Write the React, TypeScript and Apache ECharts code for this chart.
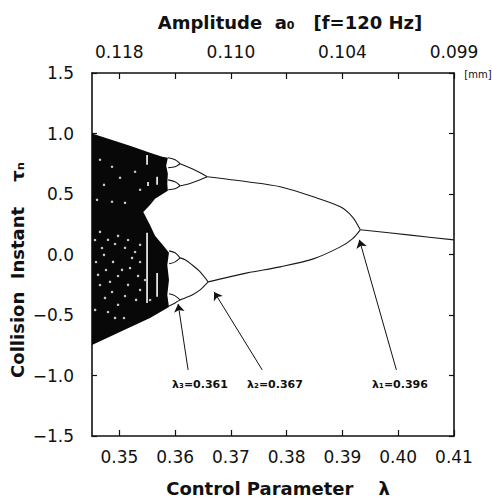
import React, { useEffect, useRef } from "react";
import * as echarts from "echarts";

// ---- axes ----
const X_MIN = 0.3451;
const X_MAX = 0.41;
const xTicks = [0.35, 0.36, 0.37, 0.38, 0.39, 0.4, 0.41];
const topTickValues = [0.35, 0.37, 0.39, 0.41];
const topTickLabels = ["0.118", "0.110", "0.104", "0.099"];
const Y_MIN = -1.5;
const Y_MAX = 1.5;
const Y_INTERVAL = 0.5;

// ---- chaotic band outline (λ, τ) ----
const chaosBoundary: [number, number][] = [
  [0.3451, 1.0], [0.3519, 0.899], [0.3555, 0.841], [0.3577, 0.808], [0.3587, 0.799],
  [0.3584, 0.733], [0.3587, 0.667], [0.3586, 0.584], [0.3587, 0.526], [0.3564, 0.46],
  [0.3555, 0.409], [0.3543, 0.351], [0.3555, 0.244], [0.3564, 0.154], [0.3582, 0.055],
  [0.3589, 0.014], [0.3586, -0.086], [0.3589, -0.21], [0.3586, -0.334], [0.3589, -0.433],
  [0.3555, -0.524], [0.3501, -0.64], [0.3451, -0.747],
];

// ---- periodic branches ----
const period1: [number, number][] = [[0.3932, 0.204], [0.4022, 0.16], [0.41, 0.121]];
const period2Upper: [number, number][] = [
  [0.36575, 0.642], [0.37293, 0.601], [0.37885, 0.56], [0.38478, 0.477],
  [0.38962, 0.394], [0.39178, 0.311], [0.3932, 0.204],
];
const period2Lower: [number, number][] = [
  [0.36592, -0.226], [0.37293, -0.152], [0.37885, -0.102], [0.38478, -0.036],
  [0.38962, 0.063], [0.39178, 0.129], [0.3932, 0.204],
];
const period4UpperTop: [number, number][] = [[0.36575, 0.642], [0.36449, 0.675], [0.36305, 0.708], [0.3618, 0.733], [0.3609, 0.75]];
const period4UpperBottom: [number, number][] = [[0.36575, 0.642], [0.36449, 0.617], [0.36305, 0.593], [0.3618, 0.576], [0.3609, 0.568]];
const period4LowerTop: [number, number][] = [[0.36592, -0.226], [0.36449, -0.144], [0.36305, -0.086], [0.3618, -0.044], [0.3609, -0.028]];
const period4LowerBottom: [number, number][] = [[0.36592, -0.226], [0.36449, -0.292], [0.36305, -0.334], [0.3618, -0.359], [0.3609, -0.375]];
const period8: [number, number][][] = [
  [[0.3609, 0.75], [0.36, 0.783], [0.35874, 0.799]],
  [[0.3609, 0.75], [0.36, 0.725], [0.35874, 0.717]],
  [[0.3609, 0.568], [0.36, 0.601], [0.35874, 0.617]],
  [[0.3609, 0.568], [0.36, 0.543], [0.35874, 0.535]],
  [[0.3609, -0.028], [0.36, 0.014], [0.35892, 0.03]],
  [[0.3609, -0.028], [0.36, -0.061], [0.35892, -0.077]],
  [[0.3609, -0.375], [0.36, -0.342], [0.35892, -0.325]],
  [[0.3609, -0.375], [0.36, -0.4], [0.35892, -0.425]],
];

// ---- periodic windows / white specks inside the chaotic band ----
const windows: [number, number][][] = [
  [[0.35497, 0.823], [0.35497, 0.741]],
  [[0.35515, 0.6], [0.35515, 0.567]],
  [[0.35497, 0.179], [0.35497, -0.4]],
  [[0.35677, -0.152], [0.35677, -0.35]],
  [[0.35677, 0.642], [0.35677, 0.576]],
];
const specks: [number, number][] = [
  [0.34653, 0.187], [0.34797, 0.121], [0.34977, 0.154], [0.35102, 0.055], [0.34725, -0.003],
  [0.34887, -0.061], [0.35048, -0.127], [0.35228, -0.028], [0.34618, -0.168], [0.34833, -0.226],
  [0.35156, -0.251], [0.35336, -0.177], [0.34743, -0.359], [0.34977, -0.416], [0.353, -0.375],
  [0.34566, -0.458], [0.34923, -0.524], [0.35372, 0.08],
  [0.34564, 0.12], [0.34689, 0.054], [0.34923, 0.087], [0.35156, 0.12], [0.35282, 0.021],
  [0.34582, -0.062], [0.34761, -0.128], [0.34977, -0.178], [0.35192, -0.112], [0.35372, -0.062],
  [0.34653, -0.252], [0.34869, -0.31], [0.35102, -0.343], [0.35372, -0.293], [0.34797, -0.475],
  [0.35084, -0.525], [0.35461, -0.211], [0.35551, -0.376],
  [0.34869, 0.725], [0.346, 0.452], [0.34869, 0.436], [0.35102, 0.427], [0.34725, 0.576],
  [0.35013, 0.634], [0.35282, 0.684], [0.34653, 0.783], [0.35372, 0.535],
];

// ---- annotations ----
const arrowFrom: [number, number][] = [[0.36233, -0.954], [0.37562, -0.954], [0.39967, -0.954]];
const arrowTo: [number, number][] = [[0.36054, -0.409], [0.367, -0.309], [0.39304, 0.121]];
const bifurcationLabels = ["λ₃=0.361", "λ₂=0.367", "λ₁=0.396"];

const FONT = "DejaVu Sans";
const INK = "#111";

export default function App() {
  const ref = useRef<HTMLDivElement>(null);
  useEffect(() => {
    if (!ref.current) return;
    const chart = echarts.init(ref.current, undefined, { renderer: "svg" });

    const axisLine = { onZero: false, lineStyle: { color: INK, width: 1.6 } };
    const tick = (len: number) => ({ inside: true, length: len, lineStyle: { color: INK, width: 1.2 } });
    const labelStyle = { color: INK, fontSize: 17, fontFamily: FONT };

    const branchSeries = [
      period1, period2Upper, period2Lower,
      period4UpperTop, period4UpperBottom, period4LowerTop, period4LowerBottom,
      ...period8,
    ].map((d) => ({
      type: "line",
      xAxisIndex: 0,
      yAxisIndex: 0,
      data: d,
      showSymbol: false,
      smooth: 0.3,
      silent: true,
      z: 3,
      lineStyle: { color: "#1a1a1a", width: 1.1 },
    }));

    const windowSeries = windows.map((d) => ({
      type: "line",
      xAxisIndex: 0,
      yAxisIndex: 0,
      data: d,
      showSymbol: false,
      silent: true,
      z: 2,
      lineStyle: { color: "#fff", width: 1.6 },
    }));

    const labelX = [200, 275, 400];
    const textEl = (text: string, x: number, y: number, size: number, weight: string, extra: any = {}) => ({
      type: "text",
      x,
      y,
      ...extra,
      style: {
        text,
        fill: INK,
        fontSize: size,
        fontWeight: weight,
        fontFamily: FONT,
        textAlign: "center",
        textVerticalAlign: "middle",
        align: "center",
        verticalAlign: "middle",
      },
    });

    chart.setOption({
      animation: false,
      backgroundColor: "#fff",
      grid: { left: 92, right: 38, top: 73, bottom: 65, containLabel: false },
      xAxis: [
        {
          type: "value",
          position: "bottom",
          min: X_MIN,
          max: X_MAX,
          axisLine,
          axisTick: { ...tick(6), customValues: xTicks },
          axisLabel: { ...labelStyle, margin: 12, customValues: xTicks, formatter: (v: number) => v.toFixed(2) },
          splitLine: { show: false },
        },
        {
          type: "value",
          position: "top",
          min: X_MIN,
          max: X_MAX,
          axisLine,
          axisTick: { ...tick(6), customValues: xTicks },
          axisLabel: {
            ...labelStyle,
            margin: 13,
            customValues: topTickValues,
            formatter: (v: number) => {
              const i = topTickValues.findIndex((t) => Math.abs(t - v) < 1e-6);
              return i >= 0 ? topTickLabels[i] : "";
            },
          },
          splitLine: { show: false },
        },
      ],
      yAxis: [
        {
          type: "value",
          position: "left",
          min: Y_MIN,
          max: Y_MAX,
          interval: Y_INTERVAL,
          axisLine,
          axisTick: tick(5),
          axisLabel: {
            ...labelStyle,
            margin: 18,
            formatter: (v: number) => (v < 0 ? "−" : "") + Math.abs(v).toFixed(1),
          },
          splitLine: { show: false },
        },
        {
          type: "value",
          position: "right",
          min: Y_MIN,
          max: Y_MAX,
          interval: Y_INTERVAL,
          axisLine,
          axisTick: tick(5),
          axisLabel: { show: false },
          splitLine: { show: false },
        },
      ],
      series: [
        {
          type: "custom",
          xAxisIndex: 0,
          yAxisIndex: 0,
          data: [[chaosBoundary[0][0], chaosBoundary[0][1]]],
          clip: true,
          silent: true,
          z: 1,
          renderItem: (_params: any, api: any) => ({
            type: "polygon",
            shape: { points: chaosBoundary.map((p) => api.coord(p)) },
            style: { fill: "#080808" },
          }),
        },
        ...windowSeries,
        {
          type: "scatter",
          xAxisIndex: 0,
          yAxisIndex: 0,
          data: specks,
          symbolSize: 2.5,
          silent: true,
          z: 2,
          itemStyle: { color: "#fff" },
        },
        ...branchSeries,
        {
          type: "lines",
          coordinateSystem: "cartesian2d",
          xAxisIndex: 0,
          yAxisIndex: 0,
          symbol: ["none", "arrow"],
          symbolSize: [4, 8],
          silent: true,
          z: 4,
          lineStyle: { color: INK, width: 1, opacity: 1 },
          data: arrowFrom.map((f, i) => ({ coords: [f, arrowTo[i]] })),
        },
      ],
      graphic: [
        textEl("Amplitude  a₀   [f=120 Hz]", 290, 22, 18, "bold"),
        textEl("Control Parameter    λ", 278, 488, 18, "bold"),
        textEl("Collision  Instant    τₙ", 17, 270, 18, "bold", { rotation: Math.PI / 2 }),
        textEl("[mm]", 478, 74, 10, "normal"),
        ...bifurcationLabels.map((t, i) => textEl(t, labelX[i], 384, 11, "bold")),
      ],
    });

    return () => chart.dispose();
  }, []);

  return (
    <div
      ref={ref}
      style={{ position: "fixed", left: 0, top: 0, width: 492, height: 501, background: "#fff" }}
    />
  );
}
